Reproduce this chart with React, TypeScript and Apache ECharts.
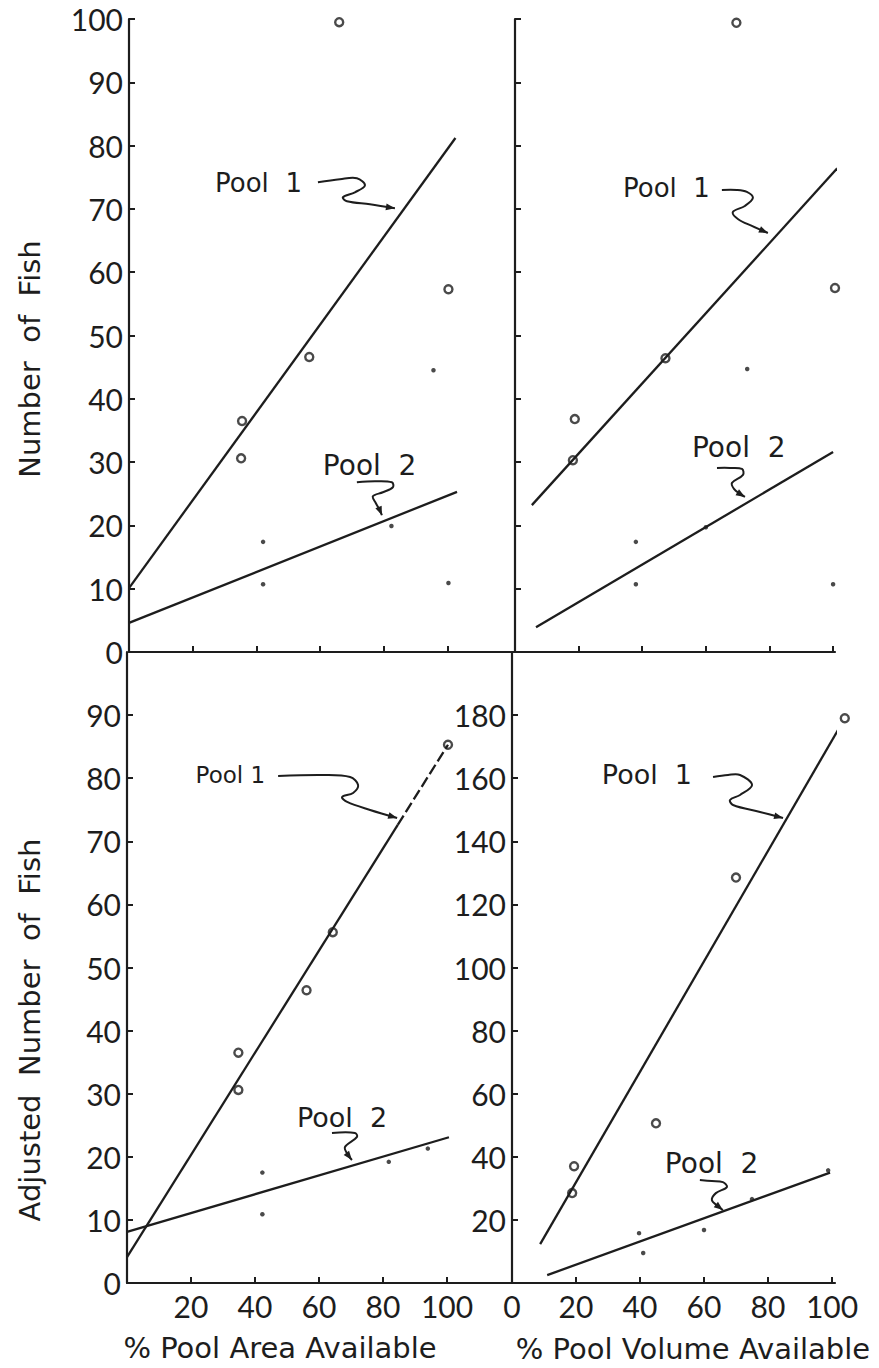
import React, { useEffect, useRef } from "react";
import * as echarts from "echarts";

const NUM_FONT = "Lato";
const TXT_FONT = "DejaVu Sans";
const INK = "#1d1d1d";

// ---- Panel 1: Number of Fish vs % Pool Area Available ----
const areaPool1Circles = [[66, 99.5], [35.5, 36.5], [35.2, 30.6], [56.6, 46.6], [100.3, 57.3]];
const areaPool2Dots = [[42.1, 17.4], [42.1, 10.7], [82.4, 19.9], [95.6, 44.5], [100.3, 10.9]];
const areaPool1Line = [[0, 10.1], [102.5, 81.2]];
const areaPool2Line = [[0, 4.6], [103, 25.3]];

// ---- Panel 2: Number of Fish vs % Pool Volume Available ----
const volPool1Circles = [[69.6, 99.4], [100.6, 57.5], [18.8, 36.8], [18.2, 30.3], [47.3, 46.4]];
const volPool2Dots = [[73, 44.7], [38, 17.4], [38, 10.7], [100, 10.7], [60, 19.7]];
const volPool1Line = [[5.3, 23.2], [101.3, 76.4]];
const volPool2Line = [[6.6, 3.9], [100, 31.6]];

// ---- Panel 3: Adjusted Number of Fish vs % Pool Area Available ----
const adjAreaPool1Circles = [[100.3, 85.3], [64.3, 55.6], [56.1, 46.4], [34.8, 36.5], [34.8, 30.6]];
const adjAreaPool2Dots = [[42.3, 17.5], [42.3, 10.9], [81.8, 19.2], [94, 21.3]];
const adjAreaPool1LineSolid = [[0, 4.1], [84.6, 72.6]];
const adjAreaPool1LineDashed = [[84.6, 72.6], [100.3, 85.3]];
const adjAreaPool2Line = [[0, 8.1], [100.6, 23.1]];

// ---- Panel 4: Adjusted Number of Fish vs % Pool Volume Available ----
const adjVolPool1Circles = [[104, 179], [70, 128.5], [45, 50.6], [19.4, 37], [18.8, 28.5]];
const adjVolPool2Dots = [[39.7, 15.8], [41, 9.5], [60, 16.8], [75, 26.6], [98.8, 35.7]];
const adjVolPool1Line = [[8.8, 12.3], [104, 179]];
const adjVolPool2Line = [[11, 2.5], [99.4, 35]];

// ---- Tick values / labels ----
const xTicks = [20, 40, 60, 80, 100];
const areaXLabels = [20, 40, 60, 80, 100];
const volXLabels = [0, 20, 40, 60, 80, 100];
const countYTicks = [10, 20, 30, 40, 50, 60, 70, 80, 90, 100];
const countYLabels = [0, 10, 20, 30, 40, 50, 60, 70, 80, 90, 100];
const adjAreaYTicks = [10, 20, 30, 40, 50, 60, 70, 80, 90];
const adjAreaYLabels = [0, 10, 20, 30, 40, 50, 60, 70, 80, 90];
const adjVolYTicks = [20, 40, 60, 80, 100, 120, 140, 160, 180];
const adjVolYLabels = [20, 40, 60, 80, 100, 120, 140, 160, 180];

// ---- Annotations: tip in data coords, text/squiggle as pixel offsets from tip ----
const annotations = [
  { grid: 0, tip: [83.5, 70.1], text: "Pool  1", size: 26, align: "right", tx: -93, ty: -25,
    path: [[-77, -26], [-55, -29], [-38, -30], [-30, -23], [-40, -16], [-52, -11], [-48, -7], [-25, -4], [0, 0]] },
  { grid: 0, tip: [79.4, 21.6], text: "Pool  2", size: 28, align: "left", tx: -59, ty: -50,
    path: [[-25, -33], [-7, -34], [10, -33], [11, -28], [1, -23], [-9, -19], [-6, -12], [-2, -5], [0, 0]] },
  { grid: 1, tip: [79.5, 66.2], text: "Pool  1", size: 26, align: "right", tx: -58, ty: -45,
    path: [[-46, -43], [-31, -43], [-21, -41], [-15, -35], [-23, -27], [-35, -21], [-30, -14], [-16, -7], [0, 0]] },
  { grid: 1, tip: [72.3, 24.5], text: "Pool  2", size: 28, align: "left", tx: -53, ty: -49,
    path: [[-28, -29], [-15, -29], [-3, -28], [-2, -22], [-13, -14], [-11, -8], [-5, -3], [0, 0]] },
  { grid: 2, tip: [84.4, 73.7], text: "Pool 1", size: 23, align: "right", tx: -132, ty: -43,
    path: [[-119, -42], [-74, -43], [-47, -41], [-39, -33], [-44, -25], [-55, -21], [-50, -16], [-27, -8], [0, 0]] },
  { grid: 2, tip: [70.3, 19.5], text: "Pool  2", size: 27, align: "left", tx: -55, ty: -42,
    path: [[-20, -27], [3, -27], [5, -23], [-7, -13], [-4, -5], [0, 0]] },
  { grid: 3, tip: [84.7, 147.4], text: "Pool  1", size: 27, align: "right", tx: -91, ty: -43,
    path: [[-70, -41], [-55, -43], [-43, -43], [-31, -33], [-43, -23], [-53, -18], [-50, -13], [-23, -6], [0, 0]] },
  { grid: 3, tip: [65.9, 23.1], text: "Pool  2", size: 28, align: "left", tx: -58, ty: -47,
    path: [[-23, -30], [-11, -29], [0, -28], [4, -23], [-7, -17], [-11, -10], [-5, -4], [0, 0]] },
];

const labelStyle = { color: INK, fontFamily: NUM_FONT, fontWeight: 400, fontSize: 30 };

function makeX(gridIndex: number, max: number, labels: number[] | null) {
  return {
    type: "value", gridIndex, min: 0, max,
    axisLine: { show: true, lineStyle: { color: INK, width: 2.2 } },
    axisTick: { show: true, inside: true, length: 6, customValues: xTicks, lineStyle: { color: INK, width: 2 } },
    axisLabel: labels ? { show: true, customValues: labels, margin: 8, ...labelStyle } : { show: false },
    splitLine: { show: false },
  };
}

function makeY(gridIndex: number, max: number, ticks: number[], labels: number[] | null) {
  return {
    type: "value", gridIndex, min: 0, max,
    axisLine: { show: true, lineStyle: { color: INK, width: 2.2 } },
    axisTick: { show: true, inside: true, length: 6, customValues: ticks, lineStyle: { color: INK, width: 2 } },
    axisLabel: labels ? { show: true, customValues: labels, margin: 6, ...labelStyle } : { show: false },
    splitLine: { show: false },
  };
}

function lineSeries(idx: number, data: number[][], dashed = false) {
  return {
    type: "line", xAxisIndex: idx, yAxisIndex: idx, data, showSymbol: false, symbol: "none",
    clip: false, silent: true, z: 2,
    lineStyle: { color: INK, width: 2.3, type: dashed ? [11, 4] : "solid" },
  };
}

function circleSeries(idx: number, data: number[][]) {
  return {
    type: "scatter", xAxisIndex: idx, yAxisIndex: idx, data, symbol: "circle", symbolSize: 8,
    clip: false, silent: true, z: 3,
    itemStyle: { color: "rgba(255,255,255,0)", borderColor: INK, borderWidth: 2.4 },
  };
}

function dotSeries(idx: number, data: number[][]) {
  return {
    type: "scatter", xAxisIndex: idx, yAxisIndex: idx, data, symbol: "circle", symbolSize: 4.5,
    clip: false, silent: true, z: 3, itemStyle: { color: INK },
  };
}

export default function App() {
  const ref = useRef<HTMLDivElement>(null);

  useEffect(() => {
    document.body.style.margin = "0";
    if (!ref.current) return;
    const chart = echarts.init(ref.current, null, { renderer: "svg" });

    const option: any = {
      animation: false,
      backgroundColor: "#ffffff",
      grid: [
        { left: 129, top: 19, width: 386, height: 633, outerBoundsMode: "none" },
        { left: 515, top: 19, width: 320, height: 633, outerBoundsMode: "none" },
        { left: 127, top: 652, width: 385, height: 631, outerBoundsMode: "none" },
        { left: 512, top: 652, width: 323, height: 631, outerBoundsMode: "none" },
      ],
      xAxis: [
        makeX(0, 121.2, null),
        makeX(1, 100.6, null),
        makeX(2, 120.3, areaXLabels),
        makeX(3, 100.94, volXLabels),
      ],
      yAxis: [
        makeY(0, 100, countYTicks, countYLabels),
        makeY(1, 100, countYTicks, null),
        makeY(2, 100, adjAreaYTicks, adjAreaYLabels),
        makeY(3, 200, adjVolYTicks, adjVolYLabels),
      ],
      series: [
        lineSeries(0, areaPool1Line), lineSeries(0, areaPool2Line),
        circleSeries(0, areaPool1Circles), dotSeries(0, areaPool2Dots),
        lineSeries(1, volPool1Line), lineSeries(1, volPool2Line),
        circleSeries(1, volPool1Circles), dotSeries(1, volPool2Dots),
        lineSeries(2, adjAreaPool1LineSolid), lineSeries(2, adjAreaPool1LineDashed, true),
        lineSeries(2, adjAreaPool2Line),
        circleSeries(2, adjAreaPool1Circles), dotSeries(2, adjAreaPool2Dots),
        lineSeries(3, adjVolPool1Line), lineSeries(3, adjVolPool2Line),
        circleSeries(3, adjVolPool1Circles), dotSeries(3, adjVolPool2Dots),
      ],
    };
    chart.setOption(option);

    const titleStyle = { fill: INK, fontFamily: TXT_FONT, fontWeight: 400, fontSize: 29, align: "center", verticalAlign: "middle" };
    const graphics: any[] = [
      { type: "text", x: 30, y: 359, rotation: Math.PI / 2, style: { text: "Number  of  Fish", ...titleStyle } },
      { type: "text", x: 30, y: 1030, rotation: Math.PI / 2, style: { text: "Adjusted  Number  of  Fish", ...titleStyle } },
      { type: "text", x: 280, y: 1348, style: { text: "% Pool Area Available", ...titleStyle } },
      { type: "text", x: 693, y: 1349, style: { text: "% Pool Volume Available", ...titleStyle } },
    ];

    annotations.forEach((a) => {
      const p = chart.convertToPixel({ gridIndex: a.grid } as any, a.tip) as number[];
      if (!p) return;
      const [px, py] = p;
      const pts = a.path.map(([dx, dy]) => [px + dx, py + dy]);
      graphics.push({
        type: "text", x: px + a.tx, y: py + a.ty,
        style: { text: a.text, fill: INK, fontFamily: TXT_FONT, fontWeight: 400, fontSize: a.size, align: a.align, verticalAlign: "middle" },
      });
      graphics.push({
        type: "polyline", shape: { points: pts, smooth: 0.35 },
        style: { stroke: INK, lineWidth: 2, fill: null },
      });
      const prev = pts[pts.length - 2];
      const tip = pts[pts.length - 1];
      const dx = tip[0] - prev[0];
      const dy = tip[1] - prev[1];
      const len = Math.hypot(dx, dy) || 1;
      const ux = dx / len, uy = dy / len;
      const nx = -uy, ny = ux;
      const L = 9, W = 3.4;
      graphics.push({
        type: "polygon",
        shape: {
          points: [
            [tip[0], tip[1]],
            [tip[0] - ux * L + nx * W, tip[1] - uy * L + ny * W],
            [tip[0] - ux * L - nx * W, tip[1] - uy * L - ny * W],
          ],
        },
        style: { fill: INK },
      });
    });

    chart.setOption({ graphic: graphics });

    return () => {
      chart.dispose();
    };
  }, []);

  return <div ref={ref} style={{ width: 879, height: 1368 }} />;
}
